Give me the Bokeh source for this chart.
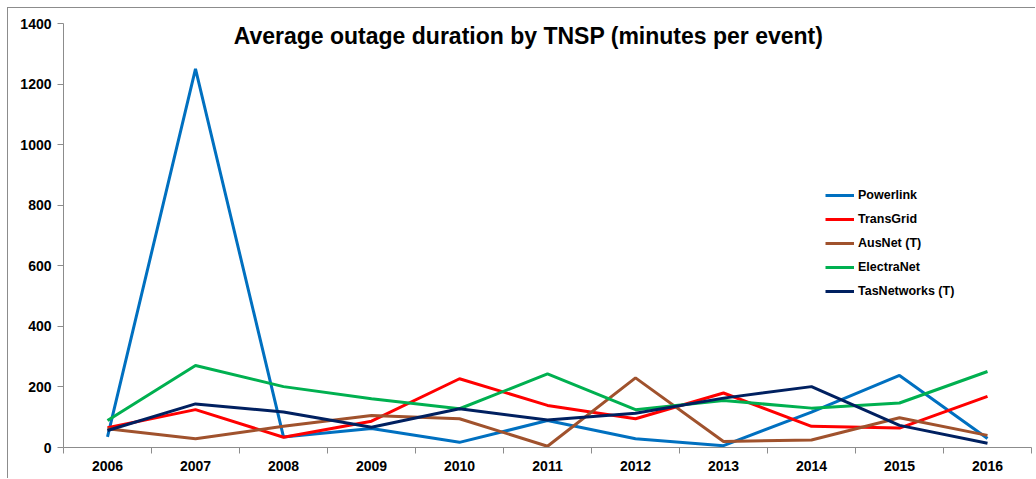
from bokeh.plotting import figure
from bokeh.models import Range1d, FixedTicker, Legend, LegendItem, Label
from bokeh.embed import file_html
from bokeh.resources import INLINE

years = ["2006", "2007", "2008", "2009", "2010", "2011", "2012", "2013", "2014", "2015", "2016"]
powerlink = [35, 1250, 35, 63, 17, 89, 29, 6, 117, 238, 30]
transgrid = [65, 125, 34, 87, 227, 139, 95, 180, 70, 64, 169]
ausnet = [62, 29, 70, 106, 95, 4, 230, 20, 25, 98, 40]
electranet = [89, 271, 201, 161, 128, 243, 125, 155, 130, 147, 251]
tasnetworks = [56, 144, 117, 67, 128, 91, 113, 163, 201, 73, 14]
y_ticks = [0, 200, 400, 600, 800, 1000, 1200, 1400]

series = [
    ("Powerlink", powerlink, "#0070C0"),
    ("TransGrid", transgrid, "#FF0000"),
    ("AusNet (T)", ausnet, "#A0522D"),
    ("ElectraNet", electranet, "#00B050"),
    ("TasNetworks (T)", tasnetworks, "#002060"),
]

xs = [i + 0.5 for i in range(len(years))]

p = figure(width=1028, height=471, output_backend="svg", toolbar_location=None,
           x_range=Range1d(0, len(years)), y_range=Range1d(0, 1400),
           min_border_left=55, min_border_right=5, min_border_top=15, min_border_bottom=32)
p.styles = {"margin-left": "7px", "margin-top": "7px",
            "border-left": "1px solid #8c8c8c", "border-top": "1px solid #8c8c8c"}
p.outline_line_color = None
p.xgrid.grid_line_color = None
p.ygrid.grid_line_color = None
p.background_fill_color = "white"
p.border_fill_color = "white"

items = []
for name, vals, col in series:
    r = p.line(xs, vals, line_color=col, line_width=3)
    items.append(LegendItem(label=name, renderers=[r]))

# x axis
p.xaxis.ticker = FixedTicker(ticks=xs, minor_ticks=list(range(len(years) + 1)))
p.xaxis.major_label_overrides = {x: y for x, y in zip(xs, years)}
p.xaxis.major_tick_line_color = None
p.xaxis.major_tick_out = 6
p.xaxis.major_tick_in = 0
p.xaxis.minor_tick_out = 6
p.xaxis.minor_tick_in = 0
p.xaxis.minor_tick_line_color = "#8c8c8c"
p.xaxis.axis_line_color = "#8c8c8c"
p.xaxis.major_label_standoff = 7

# y axis
p.yaxis.ticker = FixedTicker(ticks=y_ticks)
p.yaxis.major_tick_out = 6
p.yaxis.major_tick_in = 0
p.yaxis.minor_tick_line_color = None
p.yaxis.major_tick_line_color = "#8c8c8c"
p.yaxis.axis_line_color = "#8c8c8c"
p.yaxis.major_label_standoff = 6

for ax in (p.xaxis, p.yaxis):
    ax.major_label_text_font = "Liberation Sans"
    ax.major_label_text_font_style = "bold"
    ax.major_label_text_font_size = "14px"
    ax.major_label_text_color = "black"

legend = Legend(items=items, location=(762, 146), padding=0, margin=0, spacing=4,
                glyph_width=29, glyph_height=20, label_height=20, label_standoff=4,
                border_line_color=None, background_fill_alpha=0,
                label_text_font="Liberation Sans", label_text_font_style="bold",
                label_text_font_size="12.5px", label_text_color="black")
p.add_layout(legend, "center")

title = Label(x=5.284, y=1360, text="Average outage duration by TNSP (minutes per event)",
              text_align="center", text_baseline="middle",
              text_font="Liberation Sans", text_font_style="bold",
              text_font_size="23px", text_color="black")
p.add_layout(title)

open("out.html", "w").write(file_html(p, INLINE))
